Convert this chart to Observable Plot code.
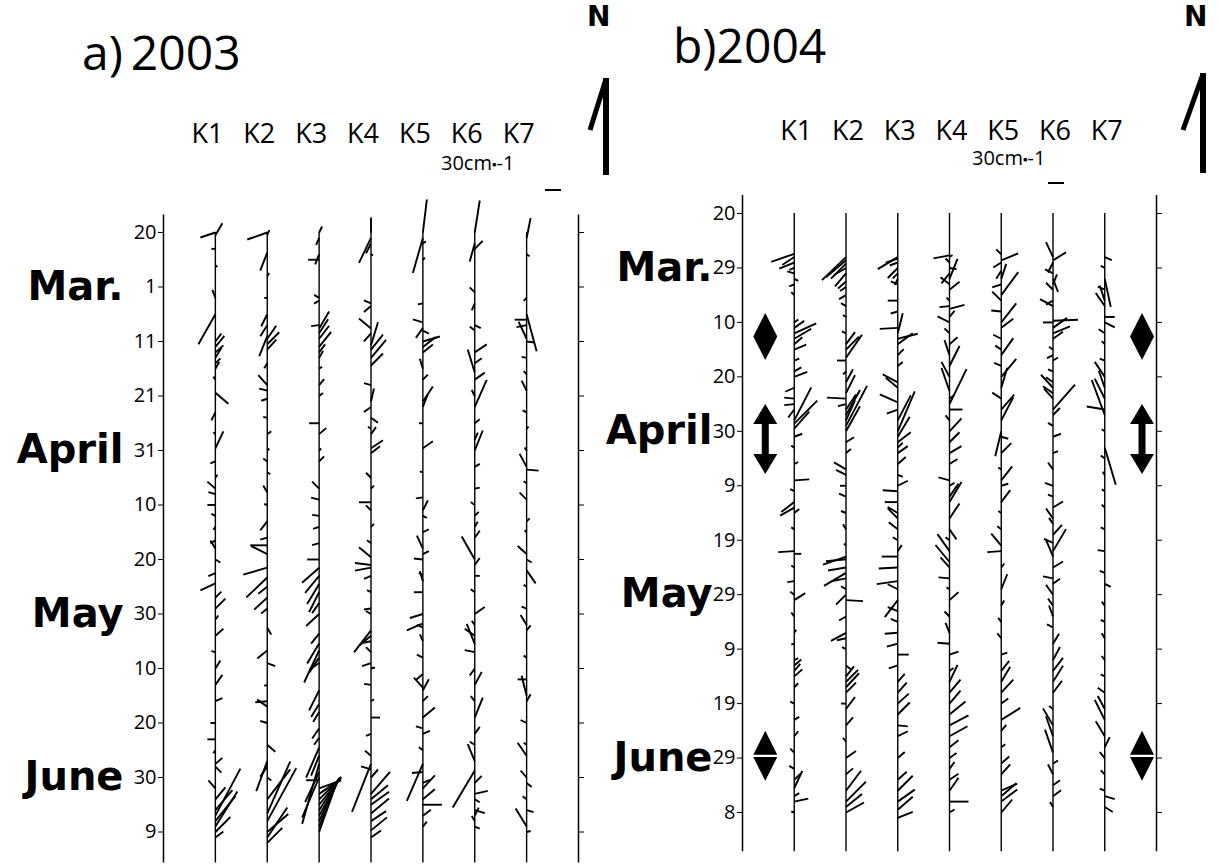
<!DOCTYPE html>
<html><head><meta charset="utf-8">
<script src="https://cdn.jsdelivr.net/npm/d3@7"></script>
<script src="https://cdn.jsdelivr.net/npm/@observablehq/plot@0.6"></script>
<style>
body{margin:0;background:#fff;}
#wrap{position:relative;width:1219px;height:865px;overflow:hidden;background:#fff;}
.abs{position:absolute;white-space:nowrap;line-height:1;color:#000;}
.pl{position:absolute;top:0;}
</style></head><body><div id="wrap"></div>
<script>
// ---------------- data ----------------
const stations = ["K1","K2","K3","K4","K5","K6","K7"];
const dayTicks = [0,10,20,30,40,50,60,70,80,90,100,110];
const tickLabels2003 = ["20","1","11","21","31","10","20","30","10","20","30","9"];
const tickLabels2004 = ["20","29","10","20","30","9","19","29","9","19","29","8"];
const monthNames = ["Mar.","April","May","June"];
const monthDays = [10,40,70,100];
const markerDays2004 = [22.6,41.4,99.6];
const markerKinds2004 = ["diamond","arrow","split"];

// sticks: [day, u (east, cm/s), v (north, cm/s)]
const K1_2003 = [[0,-30,-10],[0.5,14,24],[3,-8,0],[6,4,-4],[12,-6,16],[15,-34,-60],[20,12,16],[21,18,22],[22,16,14],[23,12,20],[24,10,10],[25,8,14],[27,-4,6],[29.4,26,-22],[33,-8,-16],[37,-4,4],[39.6,16,34],[42,-10,-4],[45,4,6],[47,-16,14],[48,-14,4],[50,-16,0],[52,-8,4],[54,-4,-6],[56.5,-10,-6],[58,-10,16],[60,10,-6],[62.5,-14,-6],[64.4,-30,-14],[67,12,12],[69,20,20],[71,6,8],[74,16,14],[77,-8,2],[80,10,16],[83,14,20],[86,14,6],[90,-10,0],[93,-16,0],[95,-4,-6],[97.5,14,12],[98,12,-12],[102,-14,16],[104,20,24],[106,34,40],[107,50,94],[108,40,50],[109,44,70],[110,30,30],[111,16,12]];
const K2_2003 = [[0,-40,-14],[0.5,4,10],[3.7,-14,-36],[8,4,6],[12,-6,0],[15,-12,-24],[17,-14,-22],[19,-16,-40],[19.5,18,26],[20.5,24,24],[21.5,18,20],[24,-6,-10],[28,-18,20],[29,-16,4],[30.5,-12,-4],[34,-8,2],[37,8,6],[40,4,4],[42,-8,6],[44,6,-4],[47.7,-8,14],[50,-6,2],[53,-14,-18],[56,-14,-4],[57.4,-34,0],[59,-32,16],[61.5,-48,-14],[63.3,-42,-40],[65,-18,-14],[67,-26,-24],[69,-12,-10],[72.5,8,-14],[76.7,-20,-16],[79,16,-6],[83,-6,-2],[86,-24,-2],[87,-20,14],[90,-14,4],[94,16,-14],[97,-22,-60],[98,-14,-20],[100,8,-6],[104,46,60],[106.6,46,104],[108,58,106],[110,42,36],[111,40,60],[112,30,30]];
const K3_2003 = [[0,6,12],[1,-6,-14],[4,-8,-20],[5,-22,0],[12,-10,6],[12.5,-10,-6],[17,-16,-2],[17.6,20,34],[18.5,18,28],[19.5,20,26],[21,24,30],[22,12,16],[23,8,14],[25,6,4],[28,10,12],[30,8,6],[35,-20,0],[37,14,12],[40,4,4],[42,10,10],[47,-14,14],[49,-16,4],[52,-14,2],[54,-12,-4],[57,-14,-4],[60,-24,0],[61.5,-34,-30],[63,-28,-34],[64.5,-24,-40],[66,-20,-40],[68,-14,-20],[70,-26,-24],[73.6,-16,-20],[75.4,-24,-40],[76.7,-30,-64],[78,-20,-30],[79,-20,-14],[84,-20,-40],[86.5,-16,-26],[88,-12,-20],[91,-14,-20],[92.7,-10,-14],[94.5,-26,-60],[96,-16,-40],[97.5,-34,-120],[99,-28,-60],[100,-34,-80],[100.5,-26,0],[102,44,16],[103,44,30],[104,44,44],[105,44,56],[106,42,66],[107,42,76],[108,40,86],[109,38,94],[110,34,96]];
const K4_2003 = [[0,0,30],[1,-24,-50],[2,-10,-20],[4,4,-2],[13,-14,6],[13.5,-14,-12],[17.6,-24,20],[18.5,-14,-16],[20.7,14,46],[21.5,24,30],[23,30,36],[24.4,24,24],[28,-14,4],[31,6,26],[32,-14,-10],[34,14,-10],[36,-6,4],[37,10,14],[39.6,24,16],[40.5,18,14],[45,-10,10],[47,6,6],[49.5,-24,0],[51,-10,10],[54,6,6],[57,-8,6],[59.6,-24,20],[61,-32,4],[61.5,-32,-6],[63,-14,-6],[66,-8,4],[69,-14,-2],[70,-10,6],[73,-34,-44],[74,-24,-20],[75,-20,-4],[77,-10,10],[79,-18,-6],[80,8,2],[83,-14,2],[86,6,4],[89,18,0],[92,-10,-4],[96,-12,10],[97.5,-38,-96],[98.5,-20,6],[100,14,16],[103,38,44],[104,34,28],[105,36,26],[106.6,36,30],[108,30,20],[109.7,32,26],[111,20,14]];
const K5_2003 = [[0,8,66],[1,-20,-70],[2,6,4],[5,4,4],[13,-10,-2],[16.5,-20,6],[17.5,-14,-20],[18,12,-6],[20,34,10],[21,26,20],[22,20,16],[25,-6,20],[27,10,10],[31,20,30],[32,10,26],[35,-8,0],[39.6,20,14],[44,-6,2],[48.6,-14,-2],[51,10,20],[52,8,-4],[55,12,6],[58,-12,26],[59,12,6],[60,-18,2],[63,-8,6],[64,-6,20],[66,-18,0],[70,-26,-8],[71.7,-32,-14],[72.5,-12,6],[75,-6,14],[78,-12,6],[81,-14,-12],[83.5,-18,20],[84,12,22],[86,10,10],[89,24,20],[91,-14,4],[92,14,6],[95,-8,6],[97.5,-32,-74],[99,-22,-2],[101,14,6],[102,24,26],[104,24,20],[105,38,0],[107,16,12],[109,8,10]];
const K6_2003 = [[0,10,64],[2,-10,-36],[3,16,16],[11,-10,10],[13,-6,-14],[17,12,-6],[18,-10,8],[22,24,16],[24,14,10],[25.7,-14,46],[27,20,14],[30,-6,12],[32,24,54],[35,10,8],[38,6,14],[40,16,40],[43,10,6],[47,10,2],[50,-8,6],[52,8,8],[54,6,10],[56,10,14],[60,-26,46],[61,10,14],[63,10,0],[66,-8,6],[70,20,14],[72,-6,8],[74,-20,14],[75.5,-16,40],[77,-20,4],[80,-10,-14],[83,14,26],[86,-8,10],[89,16,40],[92,10,14],[94,-10,6],[97,-14,34],[98.7,-44,-74],[101,14,14],[103,26,6],[104,10,-6],[106,20,-6],[107,8,16],[108,-6,10],[109,10,-4]];
const K7_2003 = [[1,8,40],[4,6,-4],[12,-6,-6],[15,20,-74],[16,-24,0],[17,-20,-4],[19.5,-16,34],[20,16,-2],[23,-10,2],[26,-6,6],[29,-10,20],[33,-8,4],[36,4,4],[40,-4,6],[43,-14,26],[43.5,24,-2],[46,-6,4],[49,-14,14],[53,6,6],[55,-4,4],[59,-18,16],[60,10,-6],[62,18,-26],[65,-6,4],[69,-10,4],[72,-12,20],[73,8,10],[78,-6,4],[82,-18,0],[85,-10,40],[86,8,14],[90,-12,6],[94,-6,4],[96,-18,26],[100,-12,14],[101,10,-8],[104,-8,6],[106,14,-4],[109,-22,36],[110,8,2]];

const K1_2004 = [[7.4,-46,-16],[8,-24,-16],[9,-30,-12],[10,-10,-4],[11,-14,4],[12,8,-4],[13,-10,-4],[15,-6,6],[20,8,6],[21,20,14],[22,44,20],[23,34,20],[24,16,14],[25,24,10],[27,10,4],[29,14,8],[30,26,10],[32,-18,-8],[34,-20,2],[35,-20,-2],[36,-12,-16],[38,34,66],[38.6,46,46],[39.5,30,34],[41,16,6],[43,-6,4],[46,8,4],[49,30,2],[51,-8,4],[53,-26,-20],[54,-28,-16],[55,10,8],[58,-6,4],[62,-32,-2],[62.5,14,0],[65,-6,4],[67.5,-14,-2],[70,-8,6],[71,22,14],[74,-6,8],[77,4,6],[79,-6,-2],[82,8,4],[83,14,12],[84,12,14],[85,16,14],[87,8,8],[90,-8,4],[93,10,6],[96,8,10],[99,-8,8],[102,-10,6],[104,12,12],[105.5,16,34],[107,10,6],[108,28,6],[110,-6,2]];
const K2_2004 = [[8,-48,-46],[8.6,-40,-34],[9.2,-30,-30],[10,-24,-14],[11,-22,-26],[12.5,-16,-14],[13.5,-12,-8],[15,-14,-8],[17,-10,6],[19,-6,4],[22,-8,4],[24,18,24],[25,26,26],[26.5,32,46],[27,-18,0],[29,-6,-6],[31,14,26],[33,18,36],[34,-38,2],[35,-16,-4],[36,20,30],[37,28,50],[38,18,40],[39,42,80],[40,28,50],[42,16,10],[44,10,8],[47,-24,14],[48,-20,10],[50,-12,0],[52,-14,6],[55,-10,4],[58,-6,10],[61,-4,4],[63,-46,-16],[63.5,-40,-4],[65,-36,-6],[66,-44,-26],[67,-30,-6],[69,-10,6],[70,-20,-20],[71,34,-2],[74,-14,-8],[77,-30,-16],[78,-18,-4],[80,-8,4],[83,10,-8],[85,16,20],[86,24,24],[87,26,28],[88,20,20],[90,-10,0],[91,18,24],[94,14,16],[97,-6,8],[100,20,14],[103,14,12],[106,30,40],[108,40,40],[109,32,26],[110,36,20]];
const K3_2004 = [[8,-40,-24],[8.3,-24,-8],[9,-16,-6],[10,-20,-20],[11,-10,-10],[12,-6,-12],[13,-14,6],[16,-20,0],[18,-14,-4],[21,-36,-2],[22,10,40],[23,40,10],[24,30,22],[26,12,12],[28,10,8],[31,-30,16],[32,-24,20],[34.7,-36,16],[36,-22,-8],[38,26,50],[40,34,80],[41,24,40],[42,26,20],[43,10,10],[44,20,14],[46,16,14],[48,10,-4],[50,20,10],[51,-30,2],[53,-26,0],[55,-20,12],[56,-20,20],[58,-18,14],[60,-10,6],[62,8,12],[63,-32,0],[65,-38,-2],[67.5,-42,-6],[69,-20,10],[71,-26,-34],[73,-20,8],[75,-14,6],[77,-26,-2],[79,-22,-6],[81,22,0],[83,-18,-6],[86,14,16],[88,18,20],[90,22,20],[92,24,24],[94,20,-2],[96,20,10],[100,14,12],[104,18,16],[106,30,30],[108,34,24],[109.5,30,26],[111,30,12]];
const K4_2004 = [[7.7,-32,-6],[8,6,4],[9,-8,8],[10,14,-2],[11,-16,-20],[12,16,40],[13,-18,14],[14,20,16],[16,-6,6],[17,-20,-2],[17.5,30,8],[19,10,12],[20,-24,12],[22,-10,10],[24,16,14],[26,-10,30],[28,20,40],[30,-16,30],[32.6,-16,46],[34,10,8],[35,34,70],[36,26,0],[38,-8,10],[40,24,26],[42,20,20],[44,24,14],[46,16,10],[49,-22,6],[50,10,6],[52,18,26],[53,24,40],[56,20,30],[58,14,-20],[60,-8,6],[62,-24,34],[64,-28,34],[65,-18,20],[67,-22,2],[69,-6,4],[71,18,16],[74,-10,10],[77,-8,20],[79,-24,2],[81,18,6],[84,8,6],[86,16,34],[88,22,26],[90,22,26],[92,32,26],[94,38,20],[96,36,20],[98,18,14],[100,14,10],[102,10,14],[104,18,12],[106,18,26],[108,38,0],[110,10,6]];
const K5_2004 = [[7.5,-10,10],[8.6,34,14],[9,-16,-10],[10.5,-10,-16],[12,10,30],[13,-18,-6],[15,34,46],[16,-18,18],[18,-20,2],[20,30,38],[21,24,18],[23,-16,8],[25,-12,8],[26,24,34],[28,-14,6],[30,30,36],[32,12,40],[34,-18,12],[36,26,30],[38,24,46],[40,-12,-50],[41,14,-4],[44,20,20],[47,-6,4],[49,22,28],[50,14,4],[53,18,24],[55,-6,4],[58,-8,6],[61,-20,24],[62,-28,-2],[65,6,8],[69,12,30],[72,6,10],[75,-6,8],[78,-8,10],[81,12,4],[84,16,20],[86,18,30],[88,24,26],[90,14,10],[93,38,24],[95,10,12],[98,8,6],[101,16,14],[103,18,20],[106,32,14],[107,30,26],[108,32,24],[110,22,26]];
const K6_2004 = [[8,-14,30],[8.6,26,16],[9,-10,-20],[11,-16,8],[12,10,-26],[13,8,20],[14,-14,14],[16,-14,-8],[17,-26,14],[19.7,50,2],[20,-20,0],[21,28,20],[22,34,14],[23,20,14],[25,-8,6],[26,-12,-6],[27,10,6],[29,-10,4],[31,-14,10],[32,-24,26],[33,-20,14],[34,-18,20],[36,44,50],[37,14,14],[39,-10,6],[41,16,6],[44,10,4],[47,-10,14],[50,-16,6],[52,-10,4],[54,20,12],[56,-14,20],[57,-8,12],[59,18,20],[60.5,-18,8],[62,26,44],[63,-14,34],[65,20,12],[67,-20,4],[68,14,10],[70,-14,20],[72,-10,14],[74,-8,22],[76,-12,6],[79,12,20],[82,14,26],[84,20,26],[86,20,32],[88,18,24],[91,-8,6],[94,-20,34],[96,-14,40],[99,-16,46],[101,10,6],[103,-10,20],[105,14,10],[107,16,12],[109,-6,10]];
const K7_2004 = [[8,14,-6],[10,-8,4],[12,12,-56],[14,-14,6],[16,-10,30],[17,-18,26],[19,20,0],[20,20,-10],[22,-12,8],[24,-6,6],[27,-10,4],[30,-20,30],[32,-12,34],[34,-20,40],[36,-36,6],[37,-26,70],[40,-6,4],[43,22,-74],[45,-8,6],[48,-4,6],[51,-6,4],[54,-6,6],[58,-8,4],[62,-14,2],[66,-10,4],[68,12,-6],[72,-6,8],[75,-8,4],[78,-6,10],[82,-6,8],[85,-8,4],[88,-14,10],[91,-14,26],[93,-20,40],[96,-18,30],[98,10,20],[100,-10,12],[103,-8,8],[106,-10,4],[107,20,-6],[109,16,-10]];

const sticks2003 = [K1_2003,K2_2003,K3_2003,K4_2003,K5_2003,K6_2003,K7_2003];
const sticks2004 = [K1_2004,K2_2004,K3_2004,K4_2004,K5_2004,K6_2004,K7_2004];

// ---------------- drawing ----------------
const PX_PER_CMS = 0.5; // 30 cm/s -> 15 px
const FONT = '"Open Sans",sans-serif';
const BOLD = '"DejaVu Sans",sans-serif';

const tallDiamond = {draw(c){c.moveTo(0,-23.5);c.lineTo(12,0);c.lineTo(0,23.5);c.lineTo(-12,0);c.closePath();}};
const doubleArrow = {draw(c){c.moveTo(0,-35);c.lineTo(12,-15);c.lineTo(3.5,-15);c.lineTo(3.5,15);c.lineTo(12,15);c.lineTo(0,35);c.lineTo(-12,15);c.lineTo(-3.5,15);c.lineTo(-3.5,-15);c.lineTo(-12,-15);c.closePath();}};
const splitDiamond = {draw(c){c.moveTo(0,-25);c.lineTo(12,-1.2);c.lineTo(-12,-1.2);c.closePath();c.moveTo(0,25);c.lineTo(12,1.2);c.lineTo(-12,1.2);c.closePath();}};
const symbolFor = {diamond: tallDiamond, arrow: doubleArrow, split: splitDiamond};

function panel(o) {
  const {sticks, labels, width, mL, mR, mT, mB, yTop, yBot, lineTop, kDx, kDy, monthDx, markers} = o;
  const height = 865;
  const pxStation = (width - mL - mR) / 8;
  const pxDay = (height - mT - mB) / 110;
  const rows = [];
  sticks.forEach((arr, i) => arr.forEach(([d, u, v]) => rows.push({
    x1: i + 1, y1: d,
    x2: i + 1 + u * PX_PER_CMS / pxStation,
    y2: d - v * PX_PER_CMS / pxDay
  })));
  const marks = [
    Plot.ruleX([0, 8], {y1: yTop, y2: yBot, stroke: "black", strokeWidth: 1.5}),
    Plot.ruleX([1,2,3,4,5,6,7], {y1: lineTop, y2: yBot, stroke: "black", strokeWidth: 1.4}),
    Plot.link(rows, {x1: "x1", y1: "y1", x2: "x2", y2: "y2", stroke: "black", strokeWidth: 1.9}),
    Plot.axisY(dayTicks, {anchor: "left", tickSize: 5, tickPadding: 2, tickFormat: d => labels[d / 10], fontSize: 20, fontFamily: FONT}),
    Plot.axisY(dayTicks, {anchor: "right", tickSize: 5, tickFormat: () => ""}),
    Plot.text(stations, {x: (d, i) => i + 1, frameAnchor: "top", dy: kDy, dx: kDx, fontSize: 27, fontFamily: FONT}),
    Plot.text(monthNames, {y: (d, i) => monthDays[i], text: d => d, frameAnchor: "left", dx: monthDx, textAnchor: "end", fontSize: 40, fontWeight: "bold", fontFamily: BOLD})
  ];
  if (markers) {
    for (const xs of [0.44, 7.72]) {
      for (const kind of ["diamond", "arrow", "split"]) {
        marks.push(Plot.dot(markers.filter(m => m.kind === kind), {x: () => xs, y: "day", symbol: symbolFor[kind], fill: "black", stroke: "none"}));
      }
    }
  }
  return Plot.plot({
    width, height,
    marginLeft: mL, marginRight: mR, marginTop: mT, marginBottom: mB,
    x: {domain: [0, 8], axis: null},
    y: {domain: [0, 110], reverse: true, axis: null},
    style: {background: "transparent", color: "black", fontFamily: FONT},
    marks
  });
}

const wrap = document.getElementById("wrap");
const pA = panel({sticks: sticks2003, labels: tickLabels2003, width: 600, mL: 163, mR: 22, mT: 232, mB: 33.5, yTop: -3.2, yBot: 115.7, lineTop: 0, kDx: -8, kDy: -109, monthDx: -40});
pA.classList.add("pl"); pA.style.left = "0px";
wrap.appendChild(pA);
const markers2004 = markerDays2004.map((d, i) => ({day: d, kind: markerKinds2004[i]}));
const pB = panel({sticks: sticks2004, labels: tickLabels2004, width: 619, mL: 142, mR: 63, mT: 213, mB: 53, yTop: -3.3, yBot: 117.2, lineTop: 0, kDx: 2, kDy: -93, monthDx: -30, markers: markers2004});
pB.classList.add("pl"); pB.style.left = "600px";
wrap.appendChild(pB);

// titles, north arrows, scale legend
function add(html, css) { const d = document.createElement("div"); d.className = "abs"; d.innerHTML = html; Object.assign(d.style, css); wrap.appendChild(d); return d; }
add("a)&#8201;2003", {left: "82px", top: "28px", fontSize: "48px", fontFamily: FONT});
add("b)2004", {left: "673px", top: "21px", fontSize: "48px", fontFamily: FONT});
add("N", {left: "587px", top: "3px", fontSize: "28px", fontWeight: "bold", fontFamily: BOLD});
add("N", {left: "1184px", top: "3px", fontSize: "28px", fontWeight: "bold", fontFamily: BOLD});
add('<svg width="40" height="112"><line x1="26" y1="8" x2="26" y2="105" stroke="black" stroke-width="6"/><line x1="26" y1="9" x2="10" y2="60" stroke="black" stroke-width="5"/></svg>', {left: "580px", top: "70px"});
add('<svg width="40" height="112"><line x1="28" y1="8" x2="28" y2="108" stroke="black" stroke-width="6"/><line x1="28" y1="9" x2="8" y2="65" stroke="black" stroke-width="5"/></svg>', {left: "1175px", top: "65px"});
add("30cm<span style='font-size:13px;vertical-align:middle'>&#9642;</span>-1", {left: "441px", top: "153px", fontSize: "20px", fontFamily: FONT});
add("30cm<span style='font-size:13px;vertical-align:middle'>&#9642;</span>-1", {left: "972px", top: "148px", fontSize: "20px", fontFamily: FONT});
add("", {left: "545px", top: "189px", width: "16px", height: "2px", background: "black"});
add("", {left: "1048px", top: "182px", width: "16px", height: "2px", background: "black"});
</script></body></html>
